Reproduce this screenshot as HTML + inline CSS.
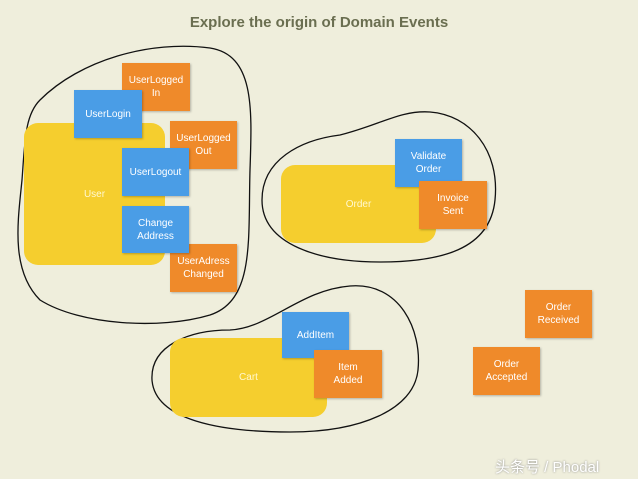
<!DOCTYPE html>
<html><head><style>
body{margin:0;width:638px;height:479px;background:#efeedc;position:relative;overflow:hidden;font-family:"Liberation Sans",sans-serif}
.b{position:absolute;display:flex;align-items:center;justify-content:center;text-align:center;color:#fff;font-size:10px;line-height:13px;box-shadow:1px 1px 2px rgba(0,0,0,.25)}
.bl{background:#4a9de6}.or{background:#ef8a2a}.ye{background:#f5ce2e;border-radius:14px;box-shadow:none;color:#fff8d0}
h1{position:absolute;left:0;width:638px;top:14px;margin:0;text-align:center;font-size:15px;font-weight:bold;color:#6a6e50}
.wm{position:absolute;left:495px;top:456px;font-size:15px;color:#fff;font-family:"Liberation Sans","Noto Sans CJK SC",sans-serif;text-shadow:0 0 2px #888}
</style></head><body>
<h1>Explore the origin of Domain Events</h1>
<svg width="638" height="479" style="position:absolute;left:0;top:0" fill="none" stroke="#111" stroke-width="1.3">
<path d="M40,100 C80,60 150,40 210,48 C255,55 252,110 250,170 C248,240 255,300 210,315 C160,330 80,325 40,300 C10,270 18,220 22,180 C25,140 25,115 40,100Z"/>
<path d="M262,200 C262,160 300,140 340,135 C380,125 400,110 430,112 C470,115 500,150 495,200 C490,250 440,262 380,262 C320,262 262,245 262,200Z"/>
<path d="M152,380 C150,345 190,330 230,330 C270,328 300,290 350,286 C400,282 422,330 418,370 C414,410 360,432 290,432 C220,432 155,420 152,380Z"/>
</svg>
<div class="b ye" style="left:24px;top:123px;width:141px;height:142px">User</div>
<div class="b or" style="left:122px;top:63px;width:68px;height:48px">UserLogged<br>In</div>
<div class="b bl" style="left:74px;top:90px;width:68px;height:48px">UserLogin</div>
<div class="b or" style="left:170px;top:121px;width:67px;height:48px">UserLogged<br>Out</div>
<div class="b bl" style="left:122px;top:148px;width:67px;height:48px">UserLogout</div>
<div class="b or" style="left:170px;top:244px;width:67px;height:48px">UserAdress<br>Changed</div>
<div class="b bl" style="left:122px;top:206px;width:67px;height:47px">Change<br>Address</div>
<div class="b ye" style="left:281px;top:165px;width:155px;height:78px">Order</div>
<div class="b bl" style="left:395px;top:139px;width:67px;height:48px">Validate<br>Order</div>
<div class="b or" style="left:419px;top:181px;width:68px;height:48px">Invoice<br>Sent</div>
<div class="b ye" style="left:170px;top:338px;width:157px;height:79px">Cart</div>
<div class="b bl" style="left:282px;top:312px;width:67px;height:46px">AddItem</div>
<div class="b or" style="left:314px;top:350px;width:68px;height:48px">Item<br>Added</div>
<div class="b or" style="left:525px;top:290px;width:67px;height:48px">Order<br>Received</div>
<div class="b or" style="left:473px;top:347px;width:67px;height:48px">Order<br>Accepted</div>
<div class="wm">头条号 / Phodal</div>
</body></html>
